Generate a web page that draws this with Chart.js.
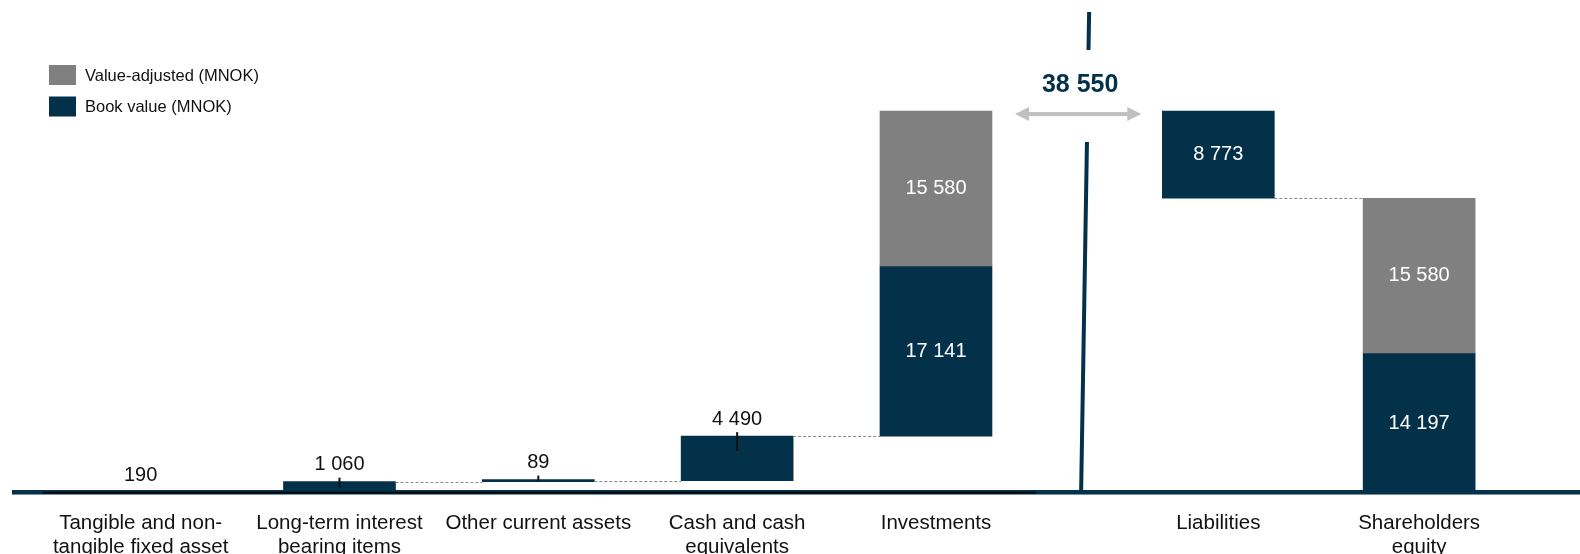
<!DOCTYPE html>
<html>
<head>
<meta charset="utf-8">
<script src="https://cdn.jsdelivr.net/npm/chart.js@4.4.1/dist/chart.umd.min.js"></script>
<style>
  html, body { margin: 0; padding: 0; background: #fff; overflow: hidden; }
  canvas { display: block; }
</style>
</head>
<body>
<canvas id="waterfall" width="1580" height="600"></canvas>
<script>
// categories in order, tick labels broken the way the slide breaks them
const categories = ["Tangible and non-tangible fixed asset", "Long-term interest bearing items",
  "Other current assets", "Cash and cash equivalents", "Investments", "Liabilities", "Shareholders equity"];
const tickLines = [
  ["Tangible and non-", "tangible fixed asset"],
  ["Long-term interest", "bearing items"],
  ["Other current assets"],
  ["Cash and cash", "equivalents"],
  ["Investments"],
  ["Liabilities"],
  ["Shareholders", "equity"]
];
// slot of each category on the x scale (gap before liabilities is wider)
const slotPos = [0, 1, 2, 3, 4, 5.42, 6.43];
const bookValue = [190, 1060, 89, 4490, 17141, 8773, 14197];
const valueAdjusted = [null, null, null, null, 15580, null, 15580];
const dividerAt = 4.73;

const navy = "#03314a";
const grey = "#808080";
const fmt = v => String(v).replace(/\B(?=(\d{3})+(?!\d))/g, " ");

// assets stack up from zero, liabilities hang from the total, equity stands on the floor
const bookBars = [], adjBars = [], assetTops = [];
let running = 0;
for (let i = 0; i < 5; i++) {
  bookBars.push({ x: slotPos[i], y: [running, running + bookValue[i]] });
  running += bookValue[i];
  if (valueAdjusted[i] != null) {
    adjBars.push({ x: slotPos[i], y: [running, running + valueAdjusted[i]] });
    running += valueAdjusted[i];
  }
  assetTops.push(running);
}
const total = running;
bookBars.push({ x: slotPos[5], y: [total - bookValue[5], total] });
bookBars.push({ x: slotPos[6], y: [0, bookValue[6]] });
adjBars.push({ x: slotPos[6], y: [bookValue[6], bookValue[6] + valueAdjusted[6]] });

const BAR_W = 112;

const extras = {
  id: "extras",
  afterDatasetsDraw(chart) {
    const { ctx } = chart;
    const xs = chart.scales.x, ys = chart.scales.y;
    const half = BAR_W / 2;
    const y0 = ys.getPixelForValue(0);
    ctx.save();

    // dashed connectors
    ctx.strokeStyle = "#8a8a8a";
    ctx.lineWidth = 1;
    ctx.setLineDash([3, 2]);
    const conn = (from, to, level) => {
      const y = Math.round(ys.getPixelForValue(level)) + 0.5;
      ctx.beginPath();
      ctx.moveTo(xs.getPixelForValue(slotPos[from]) + half, y);
      ctx.lineTo(xs.getPixelForValue(slotPos[to]) - half, y);
      ctx.stroke();
    };
    for (let i = 0; i < 4; i++) conn(i, i + 1, assetTops[i]);
    conn(5, 6, total - bookValue[5]);
    ctx.setLineDash([]);

    // value labels
    ctx.font = "20px 'Liberation Sans', Arial, sans-serif";
    ctx.textAlign = "center";
    ctx.textBaseline = "middle";
    const leaders = [];
    chart.data.datasets.forEach((ds, di) => {
      chart.getDatasetMeta(di).data.forEach((el, k) => {
        const v = ds.data[k].y[1] - ds.data[k].y[0];
        const h = el.base - el.y;
        if (h > 60) {
          ctx.fillStyle = "#fff";
          ctx.fillText(fmt(v), el.x, (el.y + el.base) / 2);
        } else {
          ctx.fillStyle = "#111";
          ctx.fillText(fmt(v), el.x, el.y - 17);
          if (el.y < y0 - 4) leaders.push([el.x, el.y, h]);
        }
      });
    });
    ctx.strokeStyle = "#111";
    ctx.lineWidth = 2;
    leaders.forEach(([x, y, h]) => {
      ctx.beginPath();
      ctx.moveTo(x, y - 4);
      ctx.lineTo(x, y + Math.max(1, Math.min(15, h * 0.55)));
      ctx.stroke();
    });

    // floor line
    ctx.fillStyle = navy;
    ctx.fillRect(12, y0 - 4, chart.width - 12, 4.5);
    ctx.fillStyle = "#000";
    ctx.fillRect(43, y0 - 2.2, 1036 - 43, 1.6);

    // divider between assets and liabilities, broken by the total
    const arrowY = ys.getPixelForValue(total) + 3;
    const xb = xs.getPixelForValue(dividerAt), xt = xb + 8;
    const topY = 12, botY = y0 - 2;
    const xAt = y => xt + (xb - xt) * (y - topY) / (botY - topY);
    ctx.strokeStyle = navy;
    ctx.lineWidth = 4;
    ctx.beginPath();
    ctx.moveTo(xAt(topY), topY);
    ctx.lineTo(xAt(arrowY - 64), arrowY - 64);
    ctx.moveTo(xAt(arrowY + 28), arrowY + 28);
    ctx.lineTo(xAt(botY), botY);
    ctx.stroke();

    // double arrow with the total
    const ax1 = xs.getPixelForValue(slotPos[4]) + half + 23;
    const ax2 = xs.getPixelForValue(slotPos[5]) - half - 21;
    ctx.fillStyle = "#c0c0c0";
    ctx.fillRect(ax1 + 12, arrowY - 2, ax2 - ax1 - 24, 4);
    ctx.beginPath();
    ctx.moveTo(ax1, arrowY);
    ctx.lineTo(ax1 + 14, arrowY - 7);
    ctx.lineTo(ax1 + 14, arrowY + 7);
    ctx.closePath();
    ctx.moveTo(ax2, arrowY);
    ctx.lineTo(ax2 - 14, arrowY - 7);
    ctx.lineTo(ax2 - 14, arrowY + 7);
    ctx.closePath();
    ctx.fill();
    ctx.fillStyle = navy;
    ctx.font = "bold 25px 'Liberation Sans', Arial, sans-serif";
    ctx.fillText(fmt(total), (ax1 + ax2) / 2 + 2, arrowY - 29);

    // legend
    ctx.font = "16.5px 'Liberation Sans', Arial, sans-serif";
    ctx.textAlign = "left";
    chart.data.datasets.forEach((ds, i) => {
      const cy = 75 + i * 31.5;
      ctx.fillStyle = ds.backgroundColor;
      ctx.fillRect(49, cy - 10, 27, 20);
      ctx.fillStyle = "#111";
      ctx.fillText(ds.label, 85, cy + 1);
    });

    ctx.restore();
  }
};

new Chart(document.getElementById("waterfall"), {
  type: "bar",
  data: {
    datasets: [
      { label: "Value-adjusted (MNOK)", data: adjBars, backgroundColor: grey },
      { label: "Book value (MNOK)", data: bookBars, backgroundColor: navy }
    ]
  },
  options: {
    responsive: false,
    animation: false,
    events: [],
    layout: { padding: { left: 12, right: 0, top: 47, bottom: 24 } },
    datasets: { bar: { grouped: false, barThickness: BAR_W, minBarLength: 2, borderWidth: 0 } },
    plugins: { legend: { display: false }, tooltip: { enabled: false } },
    scales: {
      x: {
        type: "linear",
        offset: false,
        min: -0.647,
        max: 7.239,
        afterBuildTicks: s => { s.ticks = slotPos.map(v => ({ value: v })); },
        grid: { display: false, drawTicks: false, offset: false },
        border: { display: false },
        ticks: {
          autoSkip: false,
          maxRotation: 0,
          padding: 17,
          color: "#111",
          font: { family: "'Liberation Sans', Arial, sans-serif", size: 20.5, lineHeight: 1.17 },
          callback: (v, i) => tickLines[i]
        }
      },
      y: { display: false, min: 0, max: 45000 }
    }
  },
  plugins: [extras]
});
</script>
</body>
</html>
